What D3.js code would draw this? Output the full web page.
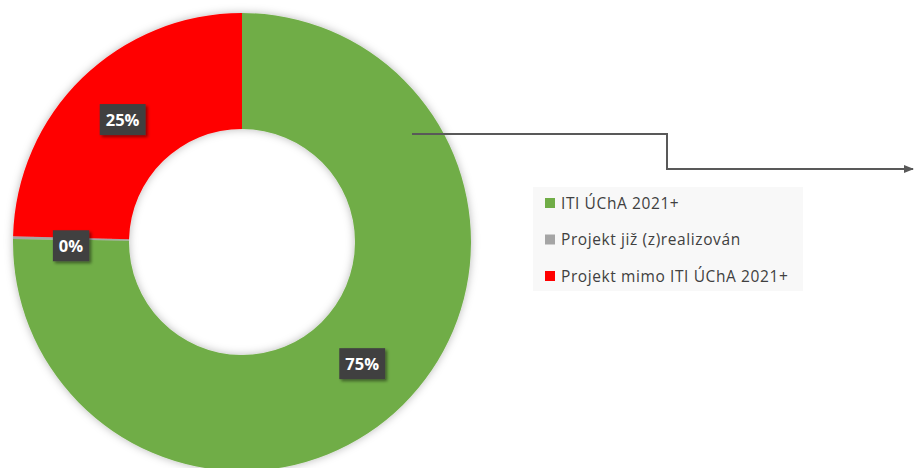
<!DOCTYPE html>
<html>
<head>
<meta charset="utf-8">
<script src="https://cdn.jsdelivr.net/npm/d3@7"></script>
<style>
  html, body { margin: 0; padding: 0; background: #ffffff; }
  svg { display: block; }
</style>
</head>
<body>
<svg id="chart" width="914" height="468"></svg>
<script>
// ---- data ----
const categories = ["ITI ÚChA 2021+", "Projekt již (z)realizován", "Projekt mimo ITI ÚChA 2021+"];
const values = [75.2, 0.2, 24.6];
const colors = ["#70AD47", "#A5A5A5", "#FF0000"];

const W = 914, H = 468;
const cx = 242, cy = 242, outerR = 229, innerR = 113;

const svg = d3.select("#chart");
const defs = svg.append("defs");

const shadow = defs.append("filter").attr("id", "glow")
  .attr("x", "-20%").attr("y", "-20%").attr("width", "140%").attr("height", "140%");
shadow.append("feDropShadow").attr("dx", 0).attr("dy", 0)
  .attr("stdDeviation", 4).attr("flood-color", "#000").attr("flood-opacity", 0.28);

const boxShadow = defs.append("filter").attr("id", "boxshadow")
  .attr("x", "-30%").attr("y", "-30%").attr("width", "160%").attr("height", "160%");
boxShadow.append("feDropShadow").attr("dx", 2).attr("dy", 2)
  .attr("stdDeviation", 1.5).attr("flood-color", "#000").attr("flood-opacity", 0.45);

const arrow = defs.append("marker").attr("id", "arrow")
  .attr("viewBox", "0 0 10 10").attr("refX", 9).attr("refY", 5)
  .attr("markerWidth", 10).attr("markerHeight", 10).attr("orient", "auto")
  .attr("markerUnits", "userSpaceOnUse");
arrow.append("path").attr("d", "M0,1 L10,5 L0,9 Z").attr("fill", "#595959");

const pie = d3.pie().value(d => d).sort(null);
const arcs = pie(values);
const arc = d3.arc().innerRadius(innerR).outerRadius(outerR);
const labelArc = d3.arc().innerRadius((innerR + outerR) / 2).outerRadius((innerR + outerR) / 2);

const g = svg.append("g").attr("transform", `translate(${cx},${cy})`);
g.append("g").attr("filter", "url(#glow)")
  .selectAll("path").data(arcs).join("path")
  .attr("d", arc)
  .attr("fill", (d, i) => colors[i]);

// data labels
const fmt = v => Math.round(v) + "%";
const total = d3.sum(values);
const lab = g.selectAll("g.lab").data(arcs).join("g").attr("class", "lab")
  .attr("transform", (d, i) => {
    const [x, y] = labelArc.centroid(d);
    const nudge = (d.data / total < 0.01) ? 7 : 0; // tiny slice label nudged down
    return `translate(${x},${y + nudge})`;
  });
lab.each(function(d, i) {
  const sel = d3.select(this);
  const txt = fmt(d.data / total * 100);
  const t = sel.append("text")
    .attr("text-anchor", "middle").attr("dy", "0.36em")
    .attr("font-family", "'Open Sans', 'Noto Sans', sans-serif")
    .attr("font-weight", "bold").attr("font-size", 16.5)
    .attr("fill", "#ffffff").text(txt);
  const bb = t.node().getBBox();
  sel.insert("rect", "text")
    .attr("x", bb.x - 6).attr("y", -15.5).attr("width", bb.width + 12).attr("height", 31)
    .attr("fill", "#404040").attr("filter", "url(#boxshadow)");
});

// leader line with arrow
const leader = [[412, 134], [667, 134], [667, 169], [913, 169]];
svg.append("path")
  .attr("d", d3.line()(leader))
  .attr("fill", "none").attr("stroke", "#595959").attr("stroke-width", 2)
  .attr("marker-end", "url(#arrow)");

// legend
const legend = svg.append("g");
legend.append("rect").attr("x", 533).attr("y", 187).attr("width", 270).attr("height", 104)
  .attr("fill", "#F8F8F8");
const rowY = d3.scalePoint().domain(categories).range([203, 276]);
const items = legend.selectAll("g.item").data(categories).join("g").attr("class", "item")
  .attr("transform", d => `translate(545,${rowY(d)})`);
items.append("rect").attr("x", 0).attr("y", -5).attr("width", 10).attr("height", 10)
  .attr("fill", (d, i) => colors[i]);
items.append("text").attr("x", 16).attr("dy", "0.36em")
  .attr("font-family", "'Open Sans', 'Noto Sans', sans-serif").attr("font-size", 15.5)
  .attr("letter-spacing", 0.6)
  .attr("fill", "#404040").text(d => d);
</script>
</body>
</html>
